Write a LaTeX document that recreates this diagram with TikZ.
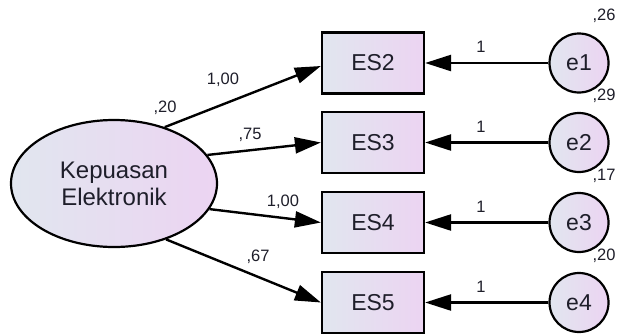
\documentclass[tikz,border=0pt]{standalone}
\usepackage{fontspec}
\setmainfont{Liberation Sans}
\usetikzlibrary{arrows.meta,shapes.geometric}
\definecolor{fillA}{HTML}{E1E6EF}
\definecolor{fillB}{HTML}{ECD4F2}
\definecolor{ink}{HTML}{1E1E2A}
\begin{document}
\begin{tikzpicture}[x=1pt,y=-1pt,
  shapefill/.style={draw=black, line width=2.2pt, left color=fillA, right color=fillB, inner sep=0pt, text=ink},
  obs/.style={shapefill, rectangle, minimum width=102pt, minimum height=61pt, font=\fontsize{23}{27}\selectfont},
  lat/.style={shapefill, ellipse, minimum width=206pt, minimum height=127pt, align=center, font=\fontsize{24}{27}\selectfont},
  err/.style={shapefill, circle, minimum size=59pt, font=\fontsize{23}{27}\selectfont},
  num/.style={inner sep=0pt, text=ink, font=\fontsize{16.5}{19}\selectfont},
  loadarrow/.style={draw=black, line width=2.4pt, -{Triangle[length=26pt,width=16pt]}}
]
\useasboundingbox (0,0) rectangle (617,335);

% latent factor
\node[lat] (kep) at (114,183.5) {Kepuasan\\Elektronik};

% indicators
\node[obs] (es2) at (373,63) {ES2};
\node[obs] (es3) at (373,142.5) {ES3};
\node[obs] (es4) at (373,222.5) {ES4};
\node[obs] (es5) at (373,302.5) {ES5};

% error terms
\node[err] (e1) at (579,63) {e1};
\node[err] (e2) at (579,142.5) {e2};
\node[err] (e3) at (579,222.5) {e3};
\node[err] (e4) at (579,302.5) {e4};

% loadings
\draw[loadarrow] (kep.48) -- ([yshift=-3pt]es2.west);
\draw[loadarrow] (kep.17) -- (es3.west);
\draw[loadarrow] (kep.-15) -- (es4.west);
\draw[loadarrow] (kep.-47) -- (es5.west);

% error paths
\draw[loadarrow] (e1.west) -- (es2.east);
\draw[loadarrow] (e2.west) -- (es3.east);
\draw[loadarrow] (e3.west) -- (es4.east);
\draw[loadarrow] (e4.west) -- (es5.east);

% estimates
\node[num] (vk) at (165,108) {,20};
\node[num] (l2) at (223,80) {1,00};
\node[num] (l3) at (250,135) {,75};
\node[num] (l4) at (283,202) {1,00};
\node[num] (l5) at (258,257) {,67};

\node[num] (w1) at (481,47) {1};
\node[num] (w2) at (481,127) {1};
\node[num] (w3) at (481,207) {1};
\node[num] (w4) at (481,287) {1};

\node[num] (v1) at (604,16) {,26};
\node[num] (v2) at (604,96) {,29};
\node[num] (v3) at (604,176) {,17};
\node[num] (v4) at (604,256) {,20};
\end{tikzpicture}
\end{document}
